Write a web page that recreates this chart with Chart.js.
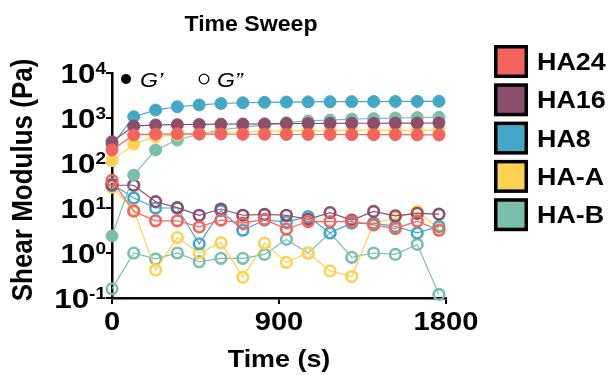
<!DOCTYPE html>
<html>
<head>
<meta charset="utf-8">
<script src="https://cdn.jsdelivr.net/npm/chart.js@4.4.0/dist/chart.umd.min.js"></script>
<style>
    html, body { margin: 0; padding: 0; background: #fff; }
</style>
</head>
<body>
<canvas id="grafica" width="611" height="375"></canvas>
<script>
// Tiempos de medida (s)
const tiempos = [0, 117, 235, 352, 470, 587, 705, 822, 940, 1057, 1175, 1292, 1410, 1527, 1645, 1762];

const nombres = ['HA24', 'HA16', 'HA8', 'HA-A', 'HA-B'];
const colores = ['#F4645F', '#8B4E6B', '#43A8C8', '#FED150', '#7BBEAE'];

// G' (módulo de almacenamiento, Pa)
const gp_HA24 = [195, 420, 440, 445, 440, 440, 435, 435, 430, 430, 430, 425, 425, 425, 420, 420];
const gp_HA16 = [296, 660, 700, 710, 720, 730, 735, 740, 750, 755, 760, 765, 765, 770, 770, 775];
const gp_HA8  = [250, 1070, 1500, 1780, 1950, 2100, 2180, 2230, 2260, 2280, 2300, 2310, 2320, 2330, 2340, 2350];
const gp_HAA  = [113, 263, 385, 420, 460, 480, 495, 505, 515, 520, 525, 530, 535, 535, 540, 540];
const gp_HAB  = [2.4, 54, 195, 324, 440, 540, 630, 700, 790, 860, 900, 950, 970, 1000, 1020, 1040];

// G'' (módulo de pérdida, Pa)
const gpp_HA24 = [41, 8.5, 5.2, 5.2, 3.8, 5.4, 4.6, 5.6, 3.4, 5.0, 5.0, 5.0, 4.2, 3.5, 5.1, 3.2];
const gpp_HA16 = [32, 32, 13.8, 10.2, 6.9, 9.5, 6.9, 7.2, 6.9, 5.6, 7.9, 5.4, 8.4, 6.7, 7.6, 7.3];
const gpp_HA8  = [34, 16.7, 10, 10, 1.6, 8.7, 3.2, 5.4, 4.9, 6.4, 2.8, 4.6, 4.6, 3.9, 2.8, 3.9];
const gpp_HAA  = [29, 9, 0.42, 2.2, 1.0, 1.7, 0.29, 1.66, 0.62, 1.0, 0.40, 0.30, 4.6, 5.9, 8.4, 3.5];
const gpp_HAB  = [0.16, 1.0, 0.74, 1.0, 0.64, 0.76, 0.76, 0.93, 2.0, 1.0, 2.8, 0.8, 1.0, 0.93, 1.55, 0.12];

// Marcas de los ejes
const ticksX = [0, 900, 1800];
const exponentesY = [-1, 0, 1, 2, 3, 4];

const fuente = '"Liberation Sans", Arial, sans-serif';
const gpSeries = [gp_HA24, gp_HA16, gp_HA8, gp_HAA, gp_HAB];
const gppSeries = [gpp_HA24, gpp_HA16, gpp_HA8, gpp_HAA, gpp_HAB];

const aPuntos = (valores) => valores.map((v, i) => ({ x: tiempos[i], y: v }));

const datasets = [];
nombres.forEach((nombre, i) => {
    datasets.push({
        label: nombre + " G'",
        data: aPuntos(gpSeries[i]),
        borderColor: colores[i],
        borderWidth: 1.2,
        pointRadius: 6,
        pointBorderWidth: 1,
        pointBackgroundColor: colores[i],
        pointBorderColor: colores[i],
        clip: false
    });
});
nombres.forEach((nombre, i) => {
    datasets.push({
        label: nombre + " G''",
        data: aPuntos(gppSeries[i]),
        borderColor: colores[i],
        borderWidth: 1.2,
        pointRadius: 5.3,
        pointBorderWidth: 2.6,
        pointBackgroundColor: 'rgba(255,255,255,0)',
        pointBorderColor: colores[i],
        clip: false
    });
});

// Texto con estiramiento horizontal
function texto(ctx, txt, x, y, size, align, sx, estilo) {
    ctx.save();
    ctx.font = (estilo || 'bold') + ' ' + size + 'px ' + fuente;
    ctx.fillStyle = '#000';
    ctx.textAlign = align;
    ctx.textBaseline = 'alphabetic';
    ctx.translate(x, y);
    ctx.scale(sx, 1);
    ctx.fillText(txt, 0, 0);
    ctx.restore();
}

const decoracion = {
    id: 'decoracion',
    afterDraw(chart) {
        const ctx = chart.ctx;
        const xs = chart.scales.x;
        const ys = chart.scales.y;
        const area = chart.chartArea;

        // Título
        texto(ctx, 'Time Sweep', 251, 31, 22, 'center', 1.05);

        // Etiquetas eje X
        ticksX.forEach(v => texto(ctx, String(v), xs.getPixelForValue(v), 330, 26, 'center', 1.12));
        texto(ctx, 'Time (s)', (area.left + area.right) / 2, 367, 24, 'center', 1.12);

        // Etiquetas eje Y (10 con exponente)
        exponentesY.forEach(e => {
            const y = ys.getPixelForValue(Math.pow(10, e));
            ctx.save();
            ctx.font = 'bold 17px ' + fuente;
            const wExp = ctx.measureText(String(e)).width * 1.12;
            ctx.font = 'bold 28px ' + fuente;
            const wBase = ctx.measureText('10').width * 1.12;
            ctx.restore();
            const derecha = 106;
            texto(ctx, '10', derecha - wExp - wBase, y + 10, 28, 'left', 1.12);
            texto(ctx, String(e), derecha - wExp, y + 1, 17, 'left', 1.12);
        });

        // Título eje Y
        ctx.save();
        ctx.font = 'bold 26px ' + fuente;
        ctx.fillStyle = '#000';
        ctx.textAlign = 'center';
        ctx.textBaseline = 'alphabetic';
        ctx.translate(32, 180);
        ctx.scale(1.12, 1);
        ctx.rotate(-Math.PI / 2);
        ctx.fillText('Shear Modulus (Pa)', 0, 0);
        ctx.restore();

        // Leyenda G' / G''
        ctx.save();
        ctx.fillStyle = '#000';
        ctx.beginPath();
        ctx.arc(126, 79, 5, 0, Math.PI * 2);
        ctx.fill();
        ctx.strokeStyle = '#000';
        ctx.lineWidth = 1.3;
        ctx.beginPath();
        ctx.arc(204, 79, 4.8, 0, Math.PI * 2);
        ctx.stroke();
        ctx.restore();
        texto(ctx, 'G\u2019', 140, 87, 21, 'left', 1.1, 'italic');
        texto(ctx, 'G\u201D', 217, 87, 21, 'left', 1.1, 'italic');

        // Leyenda de series
        nombres.forEach((nombre, i) => {
            const top = 45 + i * 38.3;
            ctx.save();
            ctx.fillStyle = '#000';
            ctx.fillRect(494, top, 34, 33);
            ctx.fillStyle = colores[i];
            ctx.fillRect(497.5, top + 3.5, 27, 26);
            ctx.restore();
            texto(ctx, nombre, 537, top + 25, 24, 'left', 1.12);
        });
    }
};

const ejeComun = {
    ticks: { display: false },
    grid: { display: true, drawOnChartArea: false, drawTicks: true, tickLength: 6, color: '#000', lineWidth: 2 },
    border: { display: true, color: '#000', width: 2.5 }
};

new Chart(document.getElementById('grafica'), {
    type: 'line',
    data: { datasets: datasets },
    options: {
        responsive: false,
        animation: false,
        events: [],
        layout: { padding: { left: 0, top: 73, right: 165, bottom: 0 } },
        plugins: { legend: { display: false }, title: { display: false }, tooltip: { enabled: false } },
        scales: {
            x: Object.assign({}, ejeComun, {
                type: 'linear', min: 0, max: 1800,
                afterBuildTicks: s => { s.ticks = ticksX.map(v => ({ value: v })); },
                afterFit: s => { s.height = 77; }
            }),
            y: Object.assign({}, ejeComun, {
                type: 'logarithmic', min: 0.1, max: 10000,
                afterBuildTicks: s => { s.ticks = exponentesY.map(e => ({ value: Math.pow(10, e) })); },
                afterFit: s => { s.width = 112; }
            })
        }
    },
    plugins: [decoracion]
});
</script>
</body>
</html>
